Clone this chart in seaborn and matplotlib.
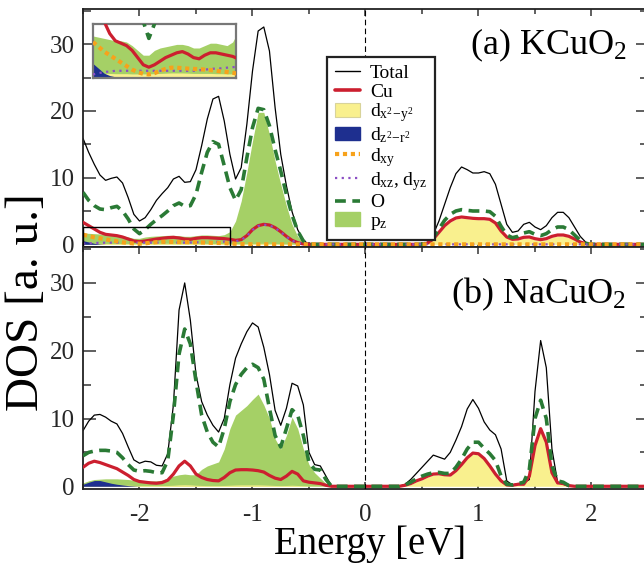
import numpy as np
import matplotlib
matplotlib.use("Agg")
import matplotlib.pyplot as plt
from matplotlib.lines import Line2D
from matplotlib.patches import Patch, Rectangle
from matplotlib.ticker import MultipleLocator
import seaborn as sns

sns.set_theme(style="ticks")
plt.rcParams.update({
    'font.family': ['Liberation Serif', 'DejaVu Serif'],
    'mathtext.fontset': 'custom',
    'mathtext.rm': 'Liberation Serif',
    'mathtext.it': 'Liberation Serif:italic',
    'mathtext.bf': 'Liberation Serif:bold',
    'axes.unicode_minus': False,
    'text.color': 'black',
    'axes.edgecolor': '#222222',
    'axes.linewidth': 1.3,
})

# colours
C_TOTAL = 'black'
C_CU = '#cc1f2f'
C_O = '#2a7a35'
C_PZ = '#a5d066'
C_DX2 = '#f9f08e'
C_DZ2 = '#1e2f8f'
C_DXY = '#f7a21b'
C_DXZ = '#8b4ec4'

# energy grids (eV)
E_a_left = np.linspace(-2.5, -0.5, 41)
E_a_right = np.linspace(0.5, 2.0, 31)
E_b_left = np.linspace(-2.5, -0.3, 45)
E_b_right = np.linspace(0.3, 1.85, 32)

# ---- (a) KCuO2 ----
total_a_left = [15.9, 13.8, 12.0, 10.4, 9.6, 9.9, 10.1, 9.2, 7.0, 4.5,
                3.5, 4.0, 5.2, 6.6, 7.6, 8.5, 9.8, 10.2, 9.3, 9.4,
                11.2, 14.8, 18.8, 21.8, 22.2, 18.5, 13.5, 9.8, 11.5, 18.0,
                26.0, 32.0, 32.6, 29.0, 20.5, 13.5, 8.8, 4.9, 2.2, 0.6,
                0.0]
total_a_right = [0.0, 0.3, 1.5, 3.5, 6.0, 8.5, 10.6, 11.6, 11.2, 10.7,
                 10.7, 10.9, 10.6, 9.0, 6.0, 3.0, 1.8, 2.0, 3.0, 3.3,
                 2.6, 2.2, 2.8, 4.0, 4.8, 4.8, 4.0, 2.6, 1.2, 0.3,
                 0.0]
o_a_left = [7.8, 6.6, 5.8, 5.3, 5.2, 5.5, 5.7, 5.0, 3.8, 2.3,
            1.6, 2.2, 3.0, 3.7, 4.3, 5.0, 5.8, 6.2, 5.7, 5.8,
            7.5, 10.8, 13.8, 15.4, 15.0, 11.8, 8.5, 6.6, 8.2, 13.0,
            17.5, 20.4, 20.2, 17.8, 14.2, 11.0, 7.5, 4.4, 2.0, 0.5,
            0.0]
o_a_right = [0.0, 0.2, 1.0, 2.3, 3.6, 4.5, 5.0, 5.2, 5.1, 5.0,
             5.0, 5.0, 4.9, 4.2, 2.7, 1.4, 1.0, 1.2, 1.7, 1.9,
             1.5, 1.3, 1.6, 2.2, 2.6, 2.6, 2.2, 1.4, 0.6, 0.15,
             0.0]
pz_a_left = [1.7, 1.65, 1.6, 1.55, 1.5, 1.5, 1.45, 1.3, 1.1, 0.9,
             0.9, 1.1, 1.2, 1.25, 1.3, 1.35, 1.35, 1.3, 1.2, 1.2,
             1.3, 1.4, 1.4, 1.35, 1.3, 1.45, 1.9, 3.5, 6.5, 10.8,
             15.5, 19.8, 19.8, 16.5, 12.5, 9.0, 5.8, 3.0, 1.2, 0.3,
             0.0]
cu_a_left = [3.3, 2.8, 2.3, 1.8, 1.5, 1.4, 1.3, 1.1, 0.8, 0.5,
             0.4, 0.5, 0.65, 0.8, 0.9, 1.0, 1.05, 0.95, 0.8, 0.75,
             0.9, 1.0, 1.0, 0.95, 0.9, 0.85, 0.75, 0.6, 0.7, 1.3,
             2.2, 2.8, 3.0, 2.9, 2.5, 1.9, 1.2, 0.6, 0.25, 0.05,
             0.0]
cu_a_right = [0.0, 0.2, 0.8, 1.8, 2.8, 3.5, 3.95, 4.1, 4.0, 3.9,
              3.85, 3.85, 3.75, 3.2, 2.0, 1.1, 0.75, 0.8, 1.05, 1.1,
              0.85, 0.7, 0.85, 1.2, 1.4, 1.4, 1.2, 0.8, 0.35, 0.1,
              0.0]
dx2_a_left = [0.15, 0.15, 0.14, 0.14, 0.13, 0.13, 0.13, 0.12, 0.12, 0.12,
              0.12, 0.13, 0.14, 0.15, 0.16, 0.16, 0.16, 0.15, 0.14, 0.14,
              0.14, 0.14, 0.13, 0.13, 0.12, 0.12, 0.11, 0.1, 0.1, 0.1,
              0.12, 0.14, 0.15, 0.14, 0.12, 0.1, 0.07, 0.04, 0.02, 0.01,
              0.0]
dx2_a_right = [0.0, 0.15, 0.7, 1.65, 2.65, 3.35, 3.8, 3.95, 3.85, 3.75,
               3.7, 3.7, 3.6, 3.05, 1.85, 0.95, 0.6, 0.65, 0.9, 0.95,
               0.7, 0.55, 0.7, 1.05, 1.25, 1.25, 1.05, 0.65, 0.25, 0.05,
               0.0]
dxz_a_left = [0.1, 0.15, 0.2, 0.22, 0.25, 0.25, 0.25, 0.25, 0.25, 0.25,
              0.25, 0.25, 0.25, 0.25, 0.25, 0.25, 0.25, 0.25, 0.25, 0.27,
              0.3, 0.32, 0.35, 0.35, 0.38, 0.4, 0.42, 0.45, 0.65, 1.25,
              2.15, 2.75, 2.95, 2.85, 2.45, 1.85, 1.15, 0.55, 0.22, 0.05,
              0.0]
dxy_a_left = [1.45, 1.25, 1.05, 0.9, 0.75, 0.6, 0.45, 0.3, 0.2, 0.12,
              0.1, 0.15, 0.25, 0.33, 0.38, 0.38, 0.36, 0.34, 0.33, 0.32,
              0.3, 0.28, 0.25, 0.22, 0.2, 0.17, 0.12, 0.08, 0.05, 0.03,
              0.0, 0.0, 0.0, 0.0, 0.0, 0.0, 0.0, 0.0, 0.0, 0.0,
              0.0]
dz2_a_x = [-2.5, -2.45, -2.4, -2.35, -2.3]
dz2_a = [0.55, 0.35, 0.15, 0.05, 0.0]

# ---- (b) NaCuO2 ----
total_b_left = [8.2, 9.6, 10.5, 10.6, 10.2, 9.6, 9.2, 7.8, 5.8, 3.9,
                3.4, 3.7, 3.6, 3.1, 3.0, 4.8, 12.0, 26.0, 30.0, 24.5,
                16.5, 12.5, 10.5, 9.0, 8.0, 10.0, 15.0, 18.9, 21.0, 22.8,
                24.1, 23.5, 20.5, 16.5, 11.2, 9.0, 11.5, 15.2, 14.8, 12.0,
                5.0, 3.2, 3.0, 1.5, 0.0]
total_b_right = [0.0, 0.3, 1.0, 1.9, 2.8, 3.7, 4.6, 4.3, 4.0, 5.0,
                 6.8, 8.8, 11.4, 12.8, 11.5, 9.5, 8.3, 7.6, 5.5, 0.8,
                 0.2, 0.4, 0.5, 1.0, 14.0, 21.5, 17.5, 5.5, 0.6, 0.3,
                 0.0, 0.0]
o_b_left = [4.5, 5.0, 5.2, 5.3, 5.3, 5.2, 5.0, 4.2, 3.2, 2.4,
            2.2, 2.3, 2.2, 2.0, 2.0, 3.8, 10.5, 19.5, 23.2, 21.0,
            15.5, 10.5, 8.0, 6.5, 5.8, 8.5, 12.5, 15.0, 16.5, 17.5,
            18.0, 17.5, 15.8, 11.5, 7.5, 5.8, 8.5, 11.3, 10.5, 7.5,
            3.5, 2.5, 2.4, 1.0, 0.0]
o_b_right = [0.0, 0.2, 0.6, 1.1, 1.5, 1.8, 2.0, 2.05, 1.9, 1.9,
             2.8, 4.0, 5.5, 6.5, 6.5, 5.6, 4.8, 3.8, 1.5, 0.3,
             0.2, 0.4, 0.6, 2.5, 10.0, 12.7, 10.0, 3.0, 0.8, 0.6,
             0.1, 0.0]
pz_b_left = [0.5, 0.8, 1.0, 1.05, 1.1, 1.1, 1.1, 1.05, 1.0, 0.9,
             0.9, 0.85, 0.8, 0.8, 0.9, 1.2, 1.5, 1.7, 1.8, 1.7,
             1.7, 2.5, 3.0, 3.3, 3.6, 5.5, 8.5, 10.5, 11.2, 11.9,
             12.8, 13.6, 12.0, 10.0, 7.0, 5.5, 7.5, 10.2, 8.5, 5.5,
             3.2, 2.0, 1.2, 0.4, 0.0]
cu_b_left = [2.8, 3.4, 3.7, 3.5, 3.2, 2.9, 2.6, 2.1, 1.6, 1.0,
             0.7, 0.6, 0.5, 0.45, 0.55, 0.9, 1.8, 3.0, 3.7, 3.0,
             1.8, 1.3, 1.0, 0.85, 0.8, 1.3, 2.0, 2.4, 2.45, 2.45,
             2.4, 2.3, 2.1, 1.6, 1.2, 1.0, 1.5, 2.2, 1.8, 0.8,
             0.6, 0.5, 0.4, 0.15, 0.0]
cu_b_right = [0.0, 0.15, 0.4, 0.8, 1.1, 1.5, 1.8, 1.85, 1.7, 1.65,
              2.3, 3.2, 4.2, 4.9, 4.8, 4.1, 3.0, 1.8, 0.8, 0.2,
              0.15, 0.3, 0.3, 1.5, 6.0, 8.5, 6.5, 2.0, 0.5, 0.4,
              0.1, 0.0]
dx2_b_left = [0.2, 0.2, 0.2, 0.2, 0.2, 0.2, 0.2, 0.18, 0.15, 0.12,
              0.1, 0.1, 0.1, 0.1, 0.1, 0.12, 0.15, 0.2, 0.22, 0.2,
              0.15, 0.12, 0.1, 0.1, 0.1, 0.12, 0.15, 0.18, 0.2, 0.2,
              0.2, 0.2, 0.18, 0.15, 0.12, 0.1, 0.12, 0.15, 0.12, 0.08,
              0.05, 0.04, 0.03, 0.01, 0.0]
dx2_b_right = [0.0, 0.05, 0.25, 0.65, 0.95, 1.35, 1.65, 1.7, 1.55, 1.5,
               2.15, 3.05, 4.05, 4.75, 4.65, 3.95, 2.85, 1.65, 0.65, 0.1,
               0.05, 0.15, 0.15, 1.35, 5.85, 8.35, 6.35, 1.85, 0.35, 0.25,
               0.0, 0.0]
dz2_b_x = [-2.5, -2.45, -2.4, -2.35, -2.3, -2.25, -2.2, -2.15, -2.1, -2.05, -2.0]
dz2_b = [0.3, 0.6, 0.85, 0.85, 0.65, 0.45, 0.3, 0.2, 0.1, 0.05, 0.0]

E_END = 2.5


def join(xl, yl, xr=None, yr=None):
    x = list(xl)
    y = list(yl)
    if xr is not None:
        x += list(xr)
        y += list(yr)
    return np.array(x + [E_END]), np.array(y + [0.0])


def draw(ax, d):
    ax.fill_between(*d['pz'], 0, color=C_PZ, lw=0, zorder=1)
    ax.fill_between(*d['dx2'], 0, color=C_DX2, lw=0, zorder=1.1)
    ax.fill_between(*d['dz2'], 0, color=C_DZ2, lw=0, zorder=1.2)
    x, y = d['total']
    sns.lineplot(x=x, y=y, ax=ax, color=C_TOTAL, lw=0.9, sort=False, estimator=None, zorder=2)
    x, y = d['cu']
    sns.lineplot(x=x, y=y, ax=ax, color=C_CU, lw=2.3, sort=False, estimator=None, zorder=3)
    x, y = d['o']
    sns.lineplot(x=x, y=y, ax=ax, color=C_O, lw=2.6, linestyle=(0, (3.0, 1.8)),
                 sort=False, estimator=None, zorder=4)
    if 'dxz' in d:
        x, y = d['dxz']
        sns.lineplot(x=x, y=y, ax=ax, color=C_DXZ, lw=1.6, linestyle=(0, (1, 2)),
                     sort=False, estimator=None, zorder=5)
    if 'dxy' in d:
        x, y = d['dxy']
        sns.lineplot(x=x, y=y, ax=ax, color=C_DXY, lw=3.0, linestyle=(0, (1, 0.9)),
                     sort=False, estimator=None, zorder=6)


data_a = {
    'total': join(E_a_left, total_a_left, E_a_right, total_a_right),
    'o': join(E_a_left, o_a_left, E_a_right, o_a_right),
    'pz': join(E_a_left, pz_a_left),
    'cu': join(E_a_left, cu_a_left, E_a_right, cu_a_right),
    'dx2': join(E_a_left, dx2_a_left, E_a_right, dx2_a_right),
    'dz2': join(dz2_a_x, dz2_a),
    'dxz': join(E_a_left, dxz_a_left),
    'dxy': join(E_a_left, dxy_a_left),
}
data_b = {
    'total': join(E_b_left, total_b_left, E_b_right, total_b_right),
    'o': join(E_b_left, o_b_left, E_b_right, o_b_right),
    'pz': join(E_b_left, pz_b_left),
    'cu': join(E_b_left, cu_b_left, E_b_right, cu_b_right),
    'dx2': join(E_b_left, dx2_b_left, E_b_right, dx2_b_right),
    'dz2': join(dz2_b_x, dz2_b),
}

W, H = 644, 565
fig = plt.figure(figsize=(W / 100, H / 100), dpi=100)
ax_a = fig.add_axes([83 / W, 1 - 247 / H, 565 / W, 238 / H])
ax_b = fig.add_axes([83 / W, 1 - 489 / H, 565 / W, 242 / H])

draw(ax_a, data_a)
draw(ax_b, data_b)

for ax in (ax_a, ax_b):
    ax.set_xlim(-2.5, 2.5)
    ax.set_ylim(-0.4, 35.3)
    ax.axvline(0, color='black', lw=0.8, ls=(0, (5, 3)), zorder=7)
    ax.xaxis.set_major_locator(MultipleLocator(1))
    ax.xaxis.set_minor_locator(MultipleLocator(0.5))
    ax.yaxis.set_major_locator(MultipleLocator(10))
    ax.yaxis.set_minor_locator(MultipleLocator(5))
    ax.tick_params(which='both', direction='in', top=True, right=True,
                   labelsize=18, color='#444444', width=1.2)
    ax.tick_params(axis='x', which='major', length=5, pad=11)
    ax.tick_params(axis='x', which='minor', length=3.5)
    ax.tick_params(axis='y', which='major', length=9, pad=6)
    ax.tick_params(axis='y', which='minor', length=6)
    ax.set_xlabel('')
    ax.set_ylabel('')
    ax.set_facecolor('white')

ax_a.tick_params(axis='x', labelbottom=False)

ax_a.text(0.962, 0.925, '(a) KCuO$_2$', transform=ax_a.transAxes,
          ha='right', va='top', fontsize=26)
ax_b.text(0.962, 0.88, '(b) NaCuO$_2$', transform=ax_b.transAxes,
          ha='right', va='top', fontsize=26)

fig.text(0.042, 0.465, 'DOS [a. u.]', rotation=90, ha='center', va='center', fontsize=34)
fig.text(370 / W, 0.037, 'Energy [eV]', ha='center', va='center', fontsize=28)

# zoom box and inset
ax_a.add_patch(Rectangle((-2.5, -0.4), 1.3, 3.0, fill=False, edgecolor='black',
                         lw=1.0, zorder=8))
ax_in = fig.add_axes([93 / W, 1 - 78 / H, 143 / W, 54 / H])
draw(ax_in, data_a)
ax_in.set_xlim(-2.5, -1.22)
ax_in.set_ylim(-0.05, 2.2)
ax_in.set_xticks([-2.0, -1.5])
ax_in.set_yticks([])
ax_in.tick_params(axis='x', direction='in', length=11, width=1.2, color='#333333',
                  labelbottom=False, top=False, bottom=True)
ax_in.set_xlabel('')
ax_in.set_ylabel('')
ax_in.set_facecolor('white')
for sp in ax_in.spines.values():
    sp.set_edgecolor('#777777')
    sp.set_linewidth(1.6)

# legend
handles = [
    Line2D([], [], color=C_TOTAL, lw=1.0),
    Line2D([], [], color=C_CU, lw=2.6),
    Patch(facecolor=C_DX2, edgecolor='#d8d39a', lw=0.8),
    Patch(facecolor=C_DZ2, edgecolor=C_DZ2),
    Line2D([], [], color=C_DXY, lw=3.0, ls=(0, (1, 0.9))),
    Line2D([], [], color=C_DXZ, lw=1.6, ls=(0, (1, 2))),
    Line2D([], [], color=C_O, lw=2.6, ls=(0, (3.0, 1.8))),
    Patch(facecolor=C_PZ, edgecolor=C_PZ),
]
labels = ['Total', 'Cu',
          r'd$_{\mathrm{x^2\!-\!y^2}}$',
          r'd$_{\mathrm{z^2\!-\!r^2}}$',
          r'd$_{\mathrm{xy}}$',
          r'd$_{\mathrm{xz}}$, d$_{\mathrm{yz}}$',
          'O',
          r'p$_{\mathrm{z}}$']
leg = ax_a.legend(handles, labels, loc='upper left', bbox_to_anchor=(0.432, 0.80),
                  fontsize=14, frameon=True, fancybox=False, framealpha=1,
                  edgecolor='#222222', labelspacing=0.05, handlelength=1.3,
                  handletextpad=0.5, borderpad=0.4, borderaxespad=0)
leg.get_frame().set_linewidth(1.6)
leg.set_zorder(10)

fig.savefig('out.png', dpi=100)
